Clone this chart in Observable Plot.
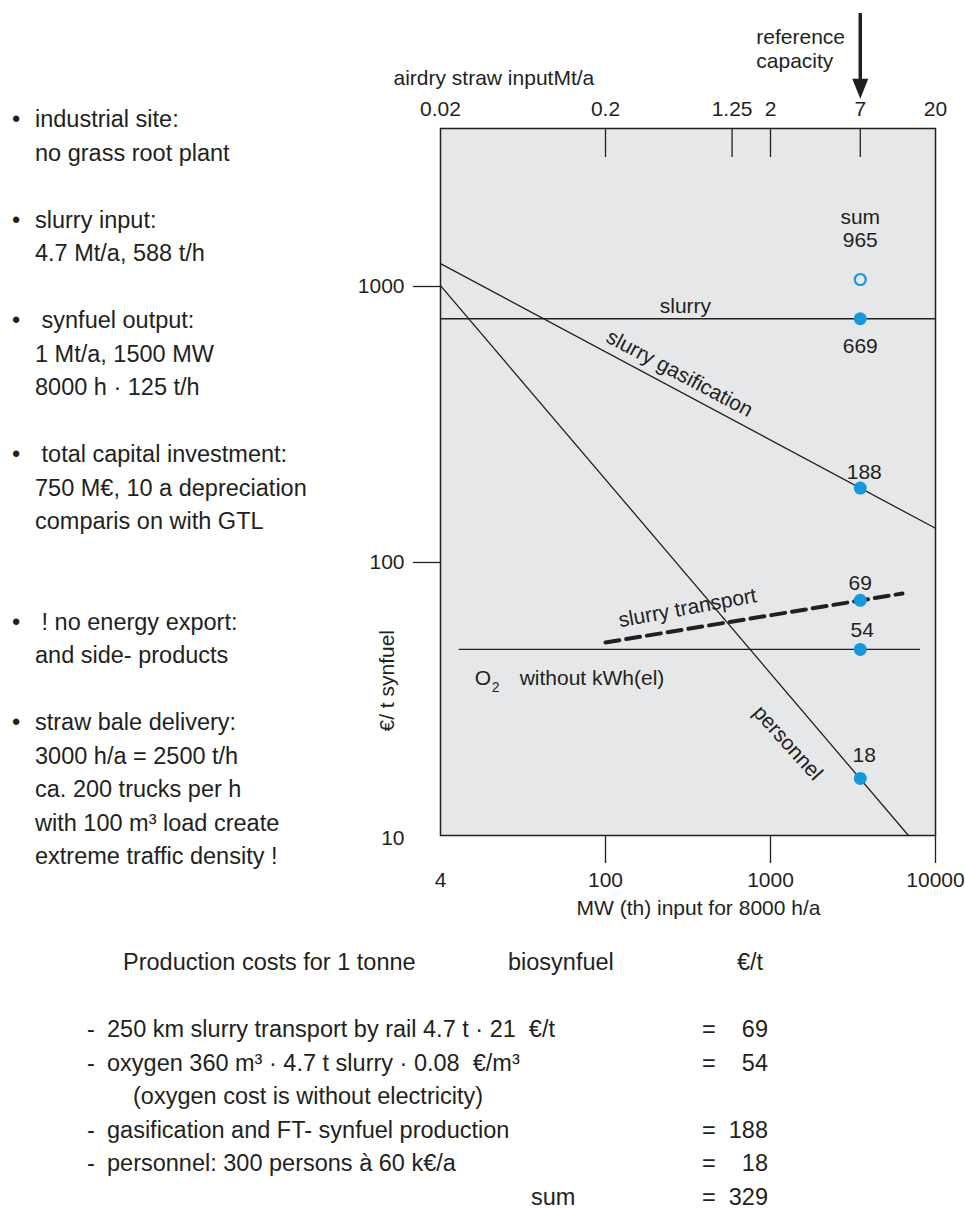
<!DOCTYPE html>
<html>
<head>
<meta charset="utf-8">
<script src="https://cdn.jsdelivr.net/npm/d3@7"></script>
<script src="https://cdn.jsdelivr.net/npm/@observablehq/plot@0.6"></script>
<style>
  body { margin: 0; background: #fff; font-family: "Liberation Sans", Arial, sans-serif; color: #231f20; }
  #page { position: relative; width: 965px; height: 1211px; overflow: hidden; background: #fff; }
  #chart { position: absolute; left: 0; top: 0; }
  .t { position: absolute; white-space: pre; font-size: 23.5px; line-height: 33.5px; }
</style>
</head>
<body>
<div id="page"><div id="chart"></div></div>
<script>
// ---------------- data ----------------
const xTickValues = [10, 100, 1000, 10000];
const xTickLabels = ["4", "100", "1000", "10000"];
const yTickValues = [10, 100, 1000];
const yTickLabels = ["10", "100", "1000"];
const strawTickMW = [10, 100, 585, 1000, 3500, 10000];
const strawTickLabels = ["0.02", "0.2", "1.25", "2", "7", "20"];
const referenceMW = 3500;

const slurryMW = [10, 10000];        const slurryCost = [764, 764];
const gasificationMW = [10, 10000];  const gasificationCost = [1211, 133];
const personnelMW = [10, 6855];      const personnelCost = [1008, 10.25];
const oxygenMW = [13, 8000];         const oxygenCost = [48.4, 48.4];
const transportMW = [100, 6310];     const transportCost = [51.3, 77.2];

const pointNames = ["sum", "slurry", "slurry gasification", "slurry transport", "O2", "personnel"];
const pointCost = [1060, 764, 186, 72.9, 48.4, 16.5];
const pointLabels = ["965", "669", "188", "69", "54", "18"];

const noteLines = [
  "• industrial site:", "no grass root plant", "",
  "• slurry input:", "4.7 Mt/a, 588 t/h", "",
  "•  synfuel output:", "1 Mt/a, 1500 MW", "8000 h · 125 t/h", "",
  "•  total capital investment:", "750 M€, 10 a depreciation", "comparis on with GTL", "", "",
  "•  ! no energy export:", "and side- products", "",
  "• straw bale delivery:", "3000 h/a = 2500 t/h", "ca. 200 trucks per h", "with 100 m³ load create", "extreme traffic density !"
];
const costHeader = ["Production costs for 1 tonne", "biosynfuel", "€/t"];
const costItems = [
  "- 250 km slurry transport by rail 4.7 t · 21  €/t",
  "- oxygen 360 m³ · 4.7 t slurry · 0.08  €/m³",
  "(oxygen cost is without electricity)",
  "- gasification and FT- synfuel production",
  "- personnel: 300 persons à 60 k€/a",
  "sum"
];
const costValues = ["69", "54", "", "188", "18", "329"];

// ---------------- helpers ----------------
const ink = "#231f20", blue = "#1499dc";
const lg = Math.log10;
const logInterp = (xs, ys, x) => {
  const t = (lg(x) - lg(xs[0])) / (lg(xs[1]) - lg(xs[0]));
  return 10 ** (lg(ys[0]) + t * (lg(ys[1]) - lg(ys[0])));
};
const rows = (xs, ys) => xs.map((x, i) => ({x, y: ys[i]}));
const lineLabel = (text, xs, ys, x, opts) =>
  Plot.text([{x, y: logInterp(xs, ys, x), text}], {x: "x", y: "y", text: "text", fontSize: 21, fill: ink, ...opts});
const pts = pointCost.map((c, i) => ({x: referenceMW, y: c, label: pointLabels[i], name: pointNames[i]}));
const ptLabel = (i, dx, dy) => Plot.text([pts[i]], {x: "x", y: "y", text: "label", dx, dy, fontSize: 21, fill: ink});
const lineStyle = {x: "x", y: "y", stroke: ink, strokeWidth: 1.3};
const arrowHead = {draw(ctx) { ctx.moveTo(0, 10); ctx.lineTo(-8, -10); ctx.lineTo(8, -10); ctx.closePath(); }};

const chart = Plot.plot({
  width: 965, height: 930,
  marginLeft: 440, marginRight: 30, marginTop: 128, marginBottom: 95,
  style: {fontFamily: "'Liberation Sans', Arial, sans-serif", fontSize: "21px", color: ink, background: "transparent", overflow: "visible"},
  x: {type: "log", domain: [10, 10000], label: null},
  y: {type: "log", domain: [10.25, 3737], label: null},
  marks: [
    Plot.frame({fill: "#e6e7e9", stroke: null}),
    Plot.line(rows(slurryMW, slurryCost), lineStyle),
    Plot.line(rows(gasificationMW, gasificationCost), lineStyle),
    Plot.line(rows(personnelMW, personnelCost), lineStyle),
    Plot.line(rows(oxygenMW, oxygenCost), lineStyle),
    Plot.line(rows(transportMW, transportCost), {x: "x", y: "y", stroke: ink, strokeWidth: 4, strokeDasharray: "14,7"}),
    Plot.frame({stroke: ink, strokeWidth: 1.5}),
    // bottom axis
    Plot.axisX(xTickValues.slice(1), {anchor: "bottom", tickSize: 28, fill: "none", stroke: ink, strokeWidth: 1.3, label: null}),
    Plot.axisX(xTickValues, {anchor: "bottom", tickSize: 0, tickPadding: 37, tickFormat: d => xTickLabels[xTickValues.indexOf(d)], fontSize: 21, fill: ink, label: null}),
    // top axis (straw input)
    Plot.tickX(strawTickMW.slice(1, -1), {stroke: ink, strokeWidth: 1.3, insetBottom: 707 - 29}),
    Plot.text(strawTickMW, {x: d => d, text: (d, i) => strawTickLabels[i], frameAnchor: "top", lineAnchor: "bottom", dy: -13, fontSize: 21, fill: ink}),
    // left axis
    Plot.axisY([100, 1000], {anchor: "left", tickSize: 27, fill: "none", stroke: ink, strokeWidth: 1.3, label: null}),
    Plot.axisY(yTickValues, {anchor: "left", tickSize: 0, tickPadding: 36, tickFormat: d => yTickLabels[yTickValues.indexOf(d)], fontSize: 21, fill: ink, label: null}),
    // axis titles
    Plot.text(["airdry straw inputMt/a"], {frameAnchor: "top-left", lineAnchor: "middle", dx: -47, dy: -50, textAnchor: "start", fontSize: 21, fill: ink}),
    Plot.text(["MW (th) input for 8000 h/a"], {x: () => 366, frameAnchor: "bottom", lineAnchor: "middle", dy: 73, fontSize: 21, fill: ink}),
    Plot.text(["€/ t synfuel"], {frameAnchor: "left", y: () => 24.4, dx: -53, rotate: -90, fontSize: 21, fill: ink}),
    // reference capacity arrow
    Plot.text(["reference"], {x: () => referenceMW, frameAnchor: "top", lineAnchor: "middle", dx: -104, dy: -91, textAnchor: "start", fontSize: 21, fill: ink}),
    Plot.text(["capacity"], {x: () => referenceMW, frameAnchor: "top", lineAnchor: "middle", dx: -104, dy: -67, textAnchor: "start", fontSize: 21, fill: ink}),
    Plot.ruleX([referenceMW], {y1: 9750, y2: 5600, stroke: ink, strokeWidth: 3.5}),
    Plot.dot([referenceMW], {x: d => d, y: () => 5212, symbol: arrowHead, fill: ink, stroke: "none"}),
    // line labels
    lineLabel("slurry", slurryMW, slurryCost, 305, {dy: -13}),
    lineLabel("slurry gasification", gasificationMW, gasificationCost, 281, {dy: -18, rotate: 28}),
    lineLabel("slurry transport", transportMW, transportCost, 314, {dy: -21, rotate: -10.5}),
    lineLabel("personnel", personnelMW, personnelCost, 1780, {dx: -24, dy: 21, rotate: 48}),
    lineLabel("O", oxygenMW, oxygenCost, 16.1, {dy: 29, textAnchor: "start"}),
    lineLabel("2", oxygenMW, oxygenCost, 16.1, {dx: 17, dy: 38, textAnchor: "start", fontSize: 14}),
    lineLabel("without kWh(el)", oxygenMW, oxygenCost, 16.1, {dx: 45, dy: 29, textAnchor: "start"}),
    // points
    Plot.dot(pts.slice(0, 1), {x: "x", y: "y", r: 5.5, stroke: blue, strokeWidth: 2.2, fill: "none"}),
    Plot.dot(pts.slice(1), {x: "x", y: "y", r: 6.5, fill: blue, stroke: "none"}),
    Plot.text([pts[0]], {x: "x", y: "y", text: () => "sum", dy: -62, fontSize: 21, fill: ink}),
    ptLabel(0, 0, -39),
    ptLabel(1, 0, 27),
    ptLabel(2, 4, -16),
    ptLabel(3, 0, -17),
    ptLabel(4, 2, -19),
    ptLabel(5, 4, -23)
  ]
});
document.getElementById("chart").appendChild(chart);

// ---------------- side notes & cost table ----------------
const page = document.getElementById("page");
const addText = (txt, left, centerY, extra = {}) => {
  const d = document.createElement("div");
  d.className = "t";
  d.textContent = txt;
  d.style.left = left + "px";
  d.style.top = (centerY - 16.75) + "px";
  Object.assign(d.style, extra);
  page.appendChild(d);
  return d;
};
noteLines.forEach((line, i) => {
  if (!line) return;
  const y = 120 + i * 33.5;
  if (line.startsWith("•")) {
    addText("•", 12, y);
    addText(line.slice(2), 35, y);
  } else {
    addText(line, 35, y);
  }
});
addText(costHeader[0], 123, 963);
addText(costHeader[1], 508, 963);
addText(costHeader[2], 737, 963);
costItems.forEach((item, i) => {
  const y = 1030 + i * 33.5;
  if (item.startsWith("- ")) {
    addText("-", 87, y);
    addText(item.slice(2), 107, y);
  } else if (item === "sum") {
    addText(item, 531, y);
  } else {
    addText(item, 133, y);
  }
  if (costValues[i]) {
    addText("=", 702, y);
    addText(costValues[i], 0, y, {width: "768px", textAlign: "right", left: "0px"});
  }
});
</script>
</body>
</html>
